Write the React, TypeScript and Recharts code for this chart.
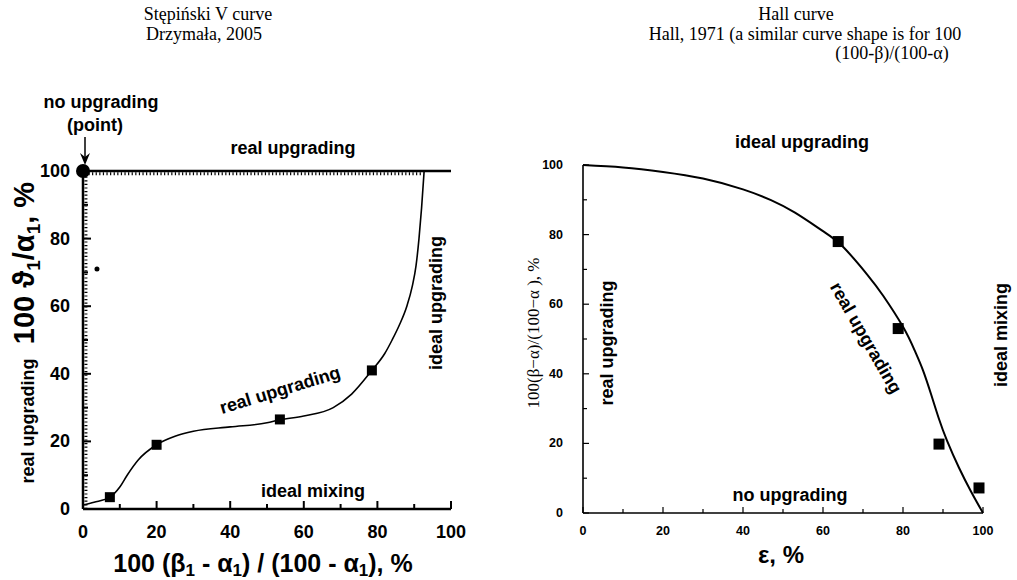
import React from "react";
import { ComposedChart, Line, Scatter, XAxis, YAxis } from "recharts";

// Stępiński V curve (Drzymała, 2005)
const stepinskiCurve = [
  { x: 0, y: 1.2 }, { x: 3, y: 2 }, { x: 7.3, y: 3.5 }, { x: 10, y: 6.5 },
  { x: 12, y: 10 }, { x: 15, y: 14.5 }, { x: 20, y: 19 }, { x: 25, y: 21.5 },
  { x: 30, y: 23 }, { x: 40, y: 24.3 }, { x: 50, y: 25.5 }, { x: 53.5, y: 26.4 },
  { x: 60, y: 27.5 }, { x: 68, y: 30 }, { x: 73, y: 34 }, { x: 78.5, y: 41 },
  { x: 82, y: 46 }, { x: 84, y: 50 }, { x: 86, y: 54.5 }, { x: 88, y: 60 },
  { x: 89.5, y: 66 }, { x: 90.5, y: 72 }, { x: 91.3, y: 80 }, { x: 92, y: 89 },
  { x: 92.7, y: 100 },
];
const stepinskiPoints = [
  { x: 7.3, y: 3.5 }, { x: 20, y: 19 }, { x: 53.5, y: 26.5 }, { x: 78.5, y: 41 },
];
const noUpgradingPoint = [{ x: 0, y: 100 }];
const strayDot = [{ x: 3.8, y: 71 }];
const topBoundary = [{ x: 0, y: 100 }, { x: 100, y: 100 }];
const topHatch = [{ x: 0.5, y: 99.2 }, { x: 92.5, y: 99.2 }];
const leftHatch = [{ x: 0.8, y: 0 }, { x: 0.8, y: 100 }];

// Hall curve (Hall, 1971)
const hallCurve = [
  { x: 0, y: 100 }, { x: 10, y: 99.3 }, { x: 20, y: 98 }, { x: 30, y: 96.1 },
  { x: 40, y: 93 }, { x: 47, y: 89.9 }, { x: 53, y: 86.3 }, { x: 60, y: 81 },
  { x: 65, y: 76.5 }, { x: 71, y: 68.6 }, { x: 75, y: 62.5 }, { x: 80, y: 53.5 },
  { x: 83, y: 46.5 }, { x: 85, y: 41 }, { x: 87, y: 34.2 }, { x: 89, y: 27 },
  { x: 91, y: 20.8 }, { x: 94, y: 13 }, { x: 97, y: 6.2 }, { x: 100, y: 0 },
];
const hallPoints = [
  { x: 63.8, y: 78 }, { x: 78.8, y: 53 }, { x: 89, y: 19.8 }, { x: 99, y: 7.2 },
];

const ticks = [0, 10, 20, 30, 40, 50, 60, 70, 80, 90, 100];

const SANS = "'Liberation Sans', Arial, sans-serif";
const SERIF = "'Liberation Serif', 'Times New Roman', serif";

const InTick = (p: any) => {
  const { x, y, payload, side, fs, major: mj, minor: mn, gap, sw } = p;
  const v = payload.value;
  const isMajor = v % 20 === 0;
  const len = isMajor ? mj : mn;
  let line: number[] = [x, y, x, y];
  if (side === "bottom") line = [x, y, x, y - len];
  if (side === "top") line = [x, y, x, y + len];
  if (side === "left") line = [x, y, x + len, y];
  if (side === "right") line = [x, y, x - len, y];
  return (
    <g>
      <line x1={line[0]} y1={line[1]} x2={line[2]} y2={line[3]} stroke="#000" strokeWidth={sw} />
      {isMajor && side === "bottom" && (
        <text x={x} y={y + gap} textAnchor="middle" fontFamily={SANS} fontWeight="bold" fontSize={fs} fill="#000">
          {v}
        </text>
      )}
      {isMajor && side === "left" && (
        <text x={x - gap} y={y} textAnchor="end" dominantBaseline="central" fontFamily={SANS} fontWeight="bold" fontSize={fs} fill="#000">
          {v}
        </text>
      )}
    </g>
  );
};

const square = (size: number) => (p: any) =>
  <rect x={p.cx - size / 2} y={p.cy - size / 2} width={size} height={size} fill="#000" />;

// text with a lowered, smaller "1" subscript after each part except the last
const SubbedText = ({ parts, shift, subSize }: { parts: string[]; shift: number; subSize: number }) => (
  <>
    {parts.map((part, i) => (
      <React.Fragment key={i}>
        <tspan dy={i === 0 ? 0 : -shift}>{part}</tspan>
        {i < parts.length - 1 && <tspan dy={shift} fontSize={subSize}>1</tspan>}
      </React.Fragment>
    ))}
  </>
);

export default function App() {
  const bold = { fontFamily: SANS, fontWeight: "bold" as const, fill: "#000" };
  return (
    <div style={{ position: "absolute", left: 0, top: 0, width: 1017, height: 580, background: "#fff" }}>
      <div style={{ position: "absolute", left: 0, top: 0 }}>
        <ComposedChart width={480} height={580} margin={{ top: 171, right: 29, bottom: 41, left: 0 }}>
          <XAxis dataKey="x" type="number" domain={[0, 100]} ticks={ticks} height={30}
            axisLine={{ stroke: "#000", strokeWidth: 2.5 }} tickLine={false} tickSize={0} tickMargin={0}
            tick={(p: any) => <InTick {...p} side="bottom" fs={18} major={8} minor={5} gap={29} sw={2} />} />
          <XAxis xAxisId="top" orientation="top" type="number" domain={[0, 100]} ticks={[]} height={0}
            axisLine={false} tickLine={false} />
          <YAxis type="number" domain={[0, 100]} ticks={ticks} width={83}
            axisLine={{ stroke: "#000", strokeWidth: 2.5 }} tickLine={false} tickSize={0} tickMargin={0}
            tick={(p: any) => <InTick {...p} side="left" fs={18} major={8} minor={5} gap={13} sw={2} />} />
          <YAxis yAxisId="right" orientation="right" type="number" domain={[0, 100]} ticks={ticks} width={0}
            axisLine={{ stroke: "#000", strokeWidth: 1.2 }} tickLine={false} tickSize={0} tickMargin={0}
            tick={(p: any) => <InTick {...p} side="right" fs={0} major={4} minor={3} gap={0} sw={1} />} />
          <Line data={topBoundary} dataKey="y" stroke="#000" strokeWidth={2.5} dot={false} isAnimationActive={false} />
          <Line data={topHatch} dataKey="y" stroke="#000" strokeWidth={3} strokeDasharray="1.2 2.4" dot={false} isAnimationActive={false} />
          <Line data={leftHatch} dataKey="y" stroke="#000" strokeWidth={3} strokeDasharray="1.2 2.4" dot={false} isAnimationActive={false} />
          <Line data={stepinskiCurve} dataKey="y" type="monotone" stroke="#000" strokeWidth={1.6} dot={false} isAnimationActive={false} />
          <Scatter data={stepinskiPoints} dataKey="y" shape={square(10)} isAnimationActive={false} />
          <Scatter data={noUpgradingPoint} dataKey="y" shape={(p: any) => <circle cx={p.cx} cy={p.cy} r={7} fill="#000" />} isAnimationActive={false} />
          <Scatter data={strayDot} dataKey="y" shape={(p: any) => <circle cx={p.cx} cy={p.cy} r={2.5} fill="#000" />} isAnimationActive={false} />
        </ComposedChart>
      </div>

      <div style={{ position: "absolute", left: 500, top: 0 }}>
        <ComposedChart width={517} height={580} margin={{ top: 165, right: 34, bottom: 37, left: 0 }}>
          <XAxis dataKey="x" type="number" domain={[0, 100]} ticks={ticks} height={30}
            axisLine={{ stroke: "#000", strokeWidth: 1.6 }} tickLine={false} tickSize={0} tickMargin={0}
            tick={(p: any) => <InTick {...p} side="bottom" fs={12.5} major={6} minor={4} gap={22} sw={1.2} />} />
          <XAxis xAxisId="top" orientation="top" type="number" domain={[0, 100]} ticks={ticks} height={0}
            axisLine={{ stroke: "#000", strokeWidth: 1.4 }} tickLine={false} tickSize={0} tickMargin={0}
            tick={(p: any) => <InTick {...p} side="top" fs={0} major={3} minor={2} gap={0} sw={1} />} />
          <YAxis type="number" domain={[0, 100]} ticks={ticks} width={83}
            axisLine={{ stroke: "#000", strokeWidth: 1.6 }} tickLine={false} tickSize={0} tickMargin={0}
            tick={(p: any) => <InTick {...p} side="left" fs={12.5} major={6} minor={4} gap={20} sw={1.2} />} />
          <YAxis yAxisId="right" orientation="right" type="number" domain={[0, 100]} ticks={ticks} width={0}
            axisLine={{ stroke: "#000", strokeWidth: 1.4 }} tickLine={false} tickSize={0} tickMargin={0}
            tick={(p: any) => <InTick {...p} side="right" fs={0} major={3} minor={2} gap={0} sw={1} />} />
          <Line data={hallCurve} dataKey="y" type="natural" stroke="#000" strokeWidth={2} dot={false} isAnimationActive={false} />
          <Scatter data={hallPoints} dataKey="y" shape={square(11)} isAnimationActive={false} />
        </ComposedChart>
      </div>

      <svg width={1017} height={580} style={{ position: "absolute", left: 0, top: 0, pointerEvents: "none" }}>
        {/* titles */}
        <g fontFamily={SERIF} fontSize={18} fill="#000" textAnchor="middle">
          <text x={208} y={20}>Stępiński V curve</text>
          <text x={204} y={40}>Drzymała, 2005</text>
          <text x={796} y={20}>Hall curve</text>
          <text x={805} y={40}>Hall, 1971 (a similar curve shape is for 100</text>
          <text x={892} y={59}>(100-β)/(100-α)</text>
        </g>

        {/* left chart annotations */}
        <g {...bold} fontSize={18}>
          <text x={101} y={108} textAnchor="middle">no upgrading</text>
          <text x={95} y={131} textAnchor="middle">(point)</text>
          <text x={293} y={154} textAnchor="middle">real upgrading</text>
          <text x={313} y={497} textAnchor="middle">ideal mixing</text>
          <text transform="translate(28,421) rotate(-90)" textAnchor="middle" dominantBaseline="central">real upgrading</text>
          <text transform="translate(436,303) rotate(-90)" textAnchor="middle" dominantBaseline="central">ideal upgrading</text>
          <text transform="translate(280,390) rotate(-17)" textAnchor="middle" dominantBaseline="central">real upgrading</text>
        </g>
        <line x1={85} y1={137} x2={85} y2={160} stroke="#000" strokeWidth={1.5} />
        <path d="M80,153 L85,165 L90,153 L85,157 Z" fill="#000" />
        <text transform="translate(34,263) rotate(-90)" textAnchor="middle" {...bold} fontSize={29}>
          <SubbedText parts={["100 ϑ", "/α", ", %"]} shift={6} subSize={19} />
        </text>
        <text x={263} y={572} textAnchor="middle" {...bold} fontSize={25}>
          <SubbedText parts={["100 (β", " - α", ") / (100 - α", "), %"]} shift={4} subSize={17} />
        </text>

        {/* right chart annotations */}
        <g {...bold} fontSize={18}>
          <text x={802} y={148} textAnchor="middle">ideal upgrading</text>
          <text x={790} y={501} textAnchor="middle">no upgrading</text>
          <text transform="translate(607,343) rotate(-90)" textAnchor="middle" dominantBaseline="central">real upgrading</text>
          <text transform="translate(1001,335) rotate(-90)" textAnchor="middle" dominantBaseline="central">ideal mixing</text>
          <text transform="translate(866,338) rotate(60)" textAnchor="middle" dominantBaseline="central">real upgrading</text>
        </g>
        <text transform="translate(533,333) rotate(-90)" textAnchor="middle" dominantBaseline="central" fontFamily={SERIF} fontSize={17} fill="#000">
          100(β−α)/(100−α ), %
        </text>
        <text x={781} y={563} textAnchor="middle" {...bold} fontSize={24}>ε, %</text>
      </svg>
    </div>
  );
}
